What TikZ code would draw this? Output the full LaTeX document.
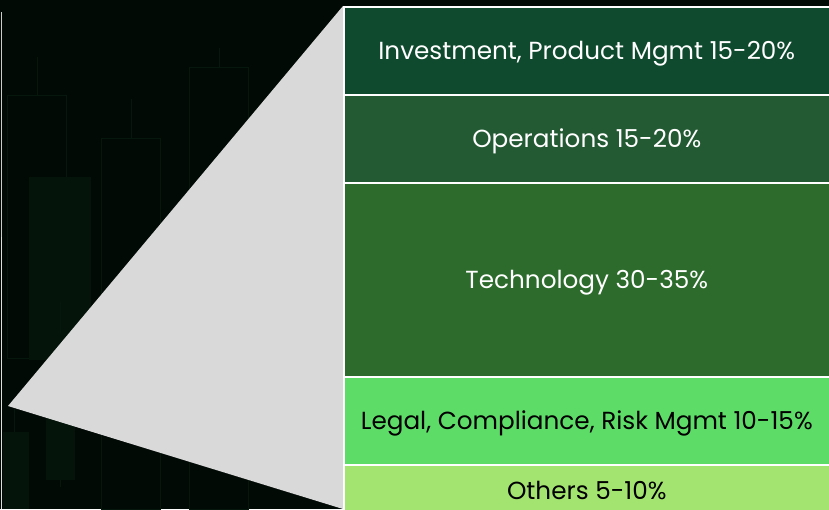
\documentclass[tikz,border=0pt]{standalone}
\usepackage{fontspec}
\setmainfont{Poppins}
\definecolor{bgc}{HTML}{020A06}
\definecolor{candle}{HTML}{06170D}
\definecolor{candlefill}{HTML}{04140A}
\definecolor{tri}{HTML}{D9D9D9}
\definecolor{cA}{HTML}{0F4A2E}
\definecolor{cB}{HTML}{235A34}
\definecolor{cC}{HTML}{2C6B2B}
\definecolor{cD}{HTML}{5EDC68}
\definecolor{cE}{HTML}{A3E36F}
\begin{document}
\begin{tikzpicture}[x=1pt,y=-1pt,
  seg/.style={draw=white,line width=1.6pt,minimum width=486pt,anchor=north west,inner sep=0pt,
    font=\fontsize{24.7}{28}\selectfont,text height=17pt,text depth=0pt},
  cndl/.style={draw=candle,line width=0.6pt},
  cfill/.style={fill=candlefill}]
\useasboundingbox (0,0) rectangle (829,509);
\fill[bgc] (0,0) rectangle (829,509);
% faint candlestick chart
\draw[cndl] (7,95) rectangle (66,358);
\draw[cndl] (37,57) -- (37,95);
\fill[cfill] (29,177) rectangle (91,360);
\draw[cndl] (101,138) rectangle (160,509);
\draw[cndl] (131,99) -- (131,138);
\draw[cndl] (189,67) rectangle (248,509);
\draw[cndl] (219,48) -- (219,67);
\fill[cfill] (46,333) rectangle (75,480);
\draw[cndl] (60,302) -- (60,333) (60,480) -- (60,487);
\fill[cfill] (3,432) rectangle (29,509);
\draw[cndl] (14,409) -- (14,432);
\draw[white!80!black,line width=0.8pt] (1,12) -- (1,237);
\draw[gray!25,line width=0.6pt] (1,237) -- (1,509);
% zoom triangle
\coordinate (apex) at (8,406);
\coordinate (tr) at (343,6);
\coordinate (br) at (343,509);
\fill[tri] (apex) -- (tr) -- (br) -- cycle;
% segments
\node[seg,fill=cA,minimum height=88pt,text=white] (s1) at (343,6) {Investment, Product Mgmt 15-20\%};
\node[seg,fill=cB,minimum height=88pt,text=white] (s2) at (343,94) {Operations 15-20\%};
\node[seg,fill=cC,minimum height=194pt,text=white] (s3) at (343,182) {Technology 30-35\%};
\node[seg,fill=cD,minimum height=88pt,text=black] (s4) at (343,376) {Legal, Compliance, Risk Mgmt 10-15\%};
\node[seg,fill=cE,minimum height=52pt,text=black] (s5) at (343,464) {Others 5-10\%};
\end{tikzpicture}
\end{document}
